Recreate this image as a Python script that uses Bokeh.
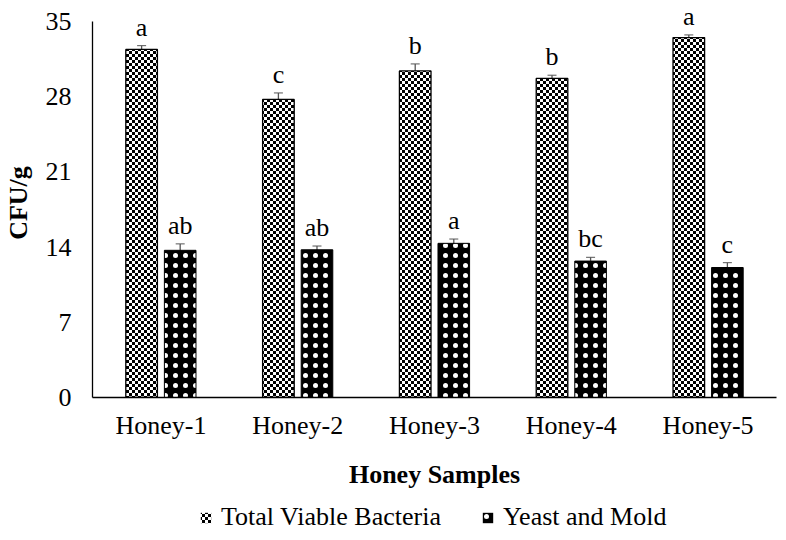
import zlib, struct, base64
from bokeh.plotting import figure
from bokeh.layouts import column
from bokeh.models import (ColumnDataSource, FactorRange, Range1d, FixedTicker, Whisker,
                          Legend, LegendItem, ImageURLTexture)
from bokeh.transform import dodge
from bokeh.core.properties import value
from bokeh.embed import file_html
from bokeh.resources import INLINE

# ---- data ----
samples = ["Honey-1", "Honey-2", "Honey-3", "Honey-4", "Honey-5"]
tvb = [32.4, 27.75, 30.4, 29.7, 33.5]
tvb_err = [0.35, 0.6, 0.65, 0.3, 0.25]
tvb_letters = ["a", "c", "b", "b", "a"]
ym = [13.7, 13.75, 14.35, 12.7, 12.1]
ym_err = [0.6, 0.35, 0.4, 0.35, 0.45]
ym_letters = ["ab", "ab", "a", "bc", "c"]
y_ticks = [0, 7, 14, 21, 28, 35]
series_names = ["Total Viable Bacteria", "Yeast and Mold"]

FONT = "Liberation Serif"
FS = "26px"

def checker_png(size=6, sq=3):
    rows = []
    for y in range(size):
        row = bytearray([0])
        for x in range(size):
            row.append(0 if ((x // sq) + (y // sq)) % 2 == 0 else 255)
        rows.append(bytes(row))
    raw = b"".join(rows)
    def chunk(t, d):
        return struct.pack(">I", len(d)) + t + d + struct.pack(">I", zlib.crc32(t + d) & 0xffffffff)
    png = (b"\x89PNG\r\n\x1a\n" + chunk(b"IHDR", struct.pack(">IIBBBBB", size, size, 8, 0, 0, 0, 0))
           + chunk(b"IDAT", zlib.compress(raw)) + chunk(b"IEND", b""))
    return "data:image/png;base64," + base64.b64encode(png).decode()

TVB_FILL = dict(fill_color="white", hatch_pattern=value("checker"),
                hatch_extra={"checker": ImageURLTexture(url=checker_png(6, 3), repetition="repeat")})
YM_FILL = dict(fill_color="black", hatch_pattern="dot", hatch_color="white",
               hatch_scale=10, hatch_weight=1.3)

src = ColumnDataSource(dict(
    x=samples, tvb=tvb, ym=ym,
    tvb_lo=[v - e for v, e in zip(tvb, tvb_err)], tvb_hi=[v + e for v, e in zip(tvb, tvb_err)],
    ym_lo=[v - e for v, e in zip(ym, ym_err)], ym_hi=[v + e for v, e in zip(ym, ym_err)],
    tvb_l=tvb_letters, ym_l=ym_letters,
))

Y_TOP = 36.21
xr = FactorRange(*samples, range_padding=0)
xr.factor_padding = 0
p = figure(x_range=xr, y_range=Range1d(0, Y_TOP),
           width=778, height=500, output_backend="svg", toolbar_location=None,
           min_border_left=84, min_border_right=2, min_border_top=8, min_border_bottom=103)

OFF = 0.141
W = 0.231

# error bars (under bars)
for col, off in (("tvb", -OFF), ("ym", OFF)):
    wh = Whisker(source=src, base=dodge("x", off, range=xr), upper=col + "_hi", lower=col + "_lo",
                 line_color="#555555", line_width=1.3, level="underlay")
    wh.upper_head.size = 9
    wh.lower_head.size = 9
    wh.upper_head.line_color = "#555555"
    wh.lower_head.line_color = "#555555"
    p.add_layout(wh)

p.vbar(x=dodge("x", -OFF, range=xr), top="tvb", width=W, source=src,
       line_color="black", line_width=1.3, **TVB_FILL)
p.vbar(x=dodge("x", OFF, range=xr), top="ym", width=W, source=src,
       line_color="black", line_width=1, **YM_FILL)

p.text(x=dodge("x", -OFF, range=xr), y="tvb_hi", text="tvb_l", source=src,
       text_font=value(FONT), text_font_size=FS, text_align="center",
       text_baseline="bottom", y_offset=-4, text_color="black")
p.text(x=dodge("x", OFF, range=xr), y="ym_hi", text="ym_l", source=src,
       text_font=value(FONT), text_font_size=FS, text_align="center",
       text_baseline="bottom", y_offset=-4, text_color="black")

# axes
p.yaxis.ticker = FixedTicker(ticks=y_ticks)
p.yaxis.bounds = (0, 35)
for ax in (p.xaxis[0], p.yaxis[0]):
    ax.major_tick_line_color = None
    ax.minor_tick_line_color = None
    ax.axis_line_color = "black"
    ax.axis_line_width = 1.3
    ax.major_label_text_font = FONT
    ax.major_label_text_color = "black"
    ax.major_label_text_font_size = FS
    ax.axis_label_text_font = FONT
    ax.axis_label_text_font_style = "bold"
    ax.axis_label_text_color = "black"
    ax.axis_label_text_font_size = FS
p.yaxis.major_label_standoff = 15
p.yaxis.axis_label = "CFU/g"
p.yaxis.axis_label_standoff = 10
p.xaxis.major_label_standoff = 7
p.xaxis.axis_label = "Honey Samples"
p.xaxis.axis_label_standoff = 17

p.xgrid.visible = False
p.ygrid.visible = False
p.outline_line_color = None

# legend strip (separate small figure so it is not clipped); its bars lie far outside its view
lg = figure(width=778, height=32, x_range=xr, y_range=Range1d(1000, 1001),
            x_axis_type=None, y_axis_type=None, output_backend="svg", toolbar_location=None,
            min_border_left=0, min_border_right=0, min_border_top=0, min_border_bottom=0)
lg.outline_line_color = None
g1 = lg.vbar(x=dodge("x", -OFF, range=xr), top="tvb", width=W, source=src, line_color=None, **TVB_FILL)
g2 = lg.vbar(x=dodge("x", OFF, range=xr), top="ym", width=W, source=src, line_color=None, **YM_FILL)
legend = Legend(items=[LegendItem(label=series_names[0], renderers=[g1]),
                       LegendItem(label=series_names[1], renderers=[g2])],
                orientation="horizontal", location=(107, 0),
                label_text_font=FONT, label_text_font_size=FS, label_text_color="black",
                glyph_width=13, glyph_height=13, label_standoff=9, spacing=40,
                padding=0, margin=0, border_line_color=None, background_fill_alpha=0)
lg.add_layout(legend, "center")

layout = column(p, lg, spacing=0)
open("out.html", "w").write(file_html(layout, INLINE))
